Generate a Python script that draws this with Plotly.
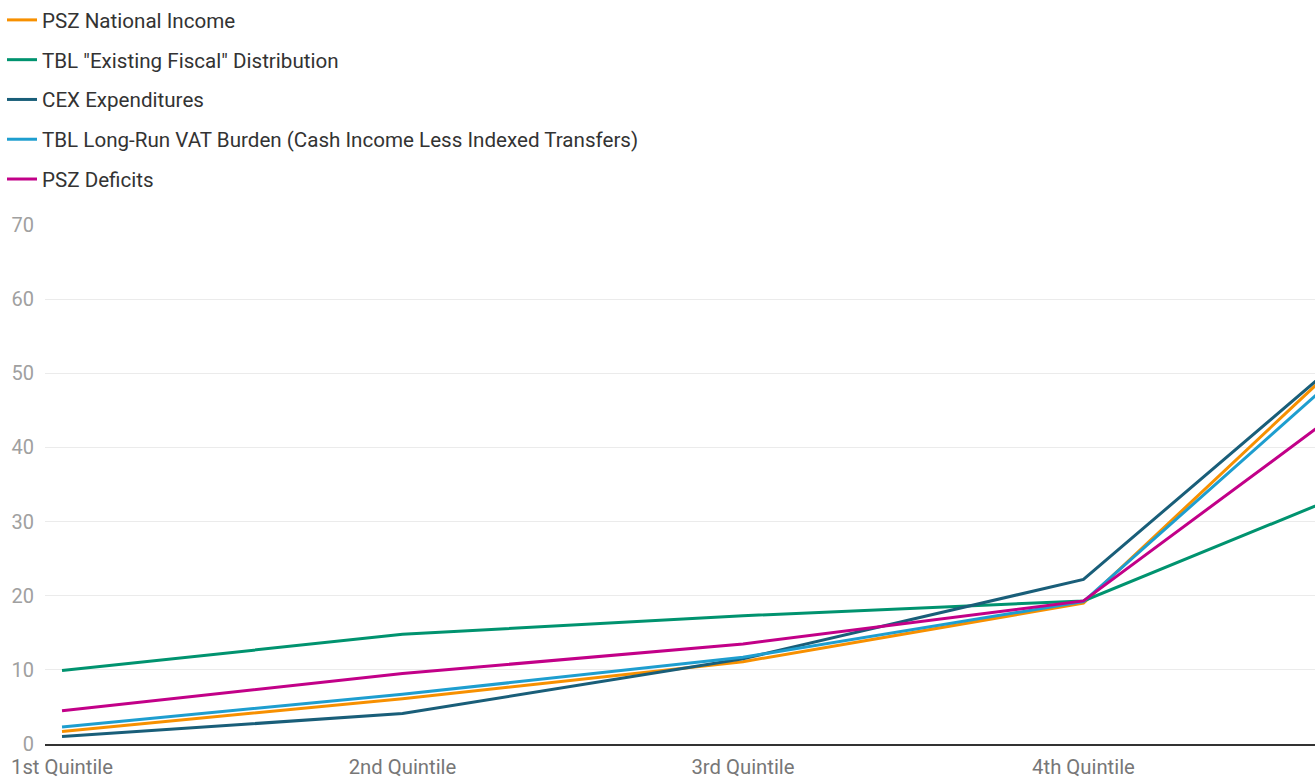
import plotly.graph_objects as go

categories = ["1st Quintile", "2nd Quintile", "3rd Quintile", "4th Quintile", "5th Quintile"]

psz_national_income = [1.7, 6.1, 11.1, 19.0, 62.1]
tbl_existing_fiscal = [9.9, 14.8, 17.3, 19.3, 38.1]
cex_expenditures = [1.0, 4.1, 11.5, 22.2, 61.4]
tbl_long_run_vat = [2.3, 6.7, 11.7, 19.2, 60.0]
psz_deficits = [4.5, 9.5, 13.5, 19.3, 53.3]

series_names = [
    "PSZ National Income",
    'TBL "Existing Fiscal" Distribution',
    "CEX Expenditures",
    "TBL Long-Run VAT Burden (Cash Income Less Indexed Transfers)",
    "PSZ Deficits",
]
series_values = [psz_national_income, tbl_existing_fiscal, cex_expenditures, tbl_long_run_vat, psz_deficits]
colors = ["#F79000", "#00936F", "#195E79", "#1E9ECF", "#C20088"]

fig = go.Figure()
for i, (name, vals, col) in enumerate(zip(series_names, series_values, colors)):
    fig.add_trace(go.Scatter(
        x=list(range(len(categories))), y=vals, name=name, mode="lines",
        line=dict(color=col, width=3), legendgroup=f"g{i}",
    ))

fig.update_layout(
    width=1315, height=778,
    margin=dict(l=45, r=0, t=225, b=34, autoexpand=False),
    paper_bgcolor="white", plot_bgcolor="white",
    font=dict(family="Roboto", size=20, color="#333333"),
    showlegend=True,
    legend=dict(
        xref="container", yref="container", x=2 / 1315, y=1 + 1 / 778,
        xanchor="left", yanchor="top",
        orientation="v", tracegroupgap=10, font=dict(size=20.6, color="#333333"),
        bgcolor="rgba(0,0,0,0)", itemwidth=30,
    ),
    xaxis=dict(
        range=[-0.05, 3.68], tickmode="array", tickvals=list(range(len(categories))),
        ticktext=categories, showgrid=False, zeroline=False,
        showline=True, linecolor="#333333", linewidth=2,
        tickfont=dict(size=20.3, color="#777777"), ticks="", ticklabelstandoff=4,
    ),
    yaxis=dict(
        range=[0, 70], tickvals=[0, 10, 20, 30, 40, 50, 60, 70],
        showgrid=True, gridcolor="#EBEBEB", gridwidth=1, zeroline=False,
        showline=False, tickfont=dict(size=20, color="#A0A0A0"), ticks="",
        ticklabelstandoff=10,
    ),
)

fig.write_html("out.html")
